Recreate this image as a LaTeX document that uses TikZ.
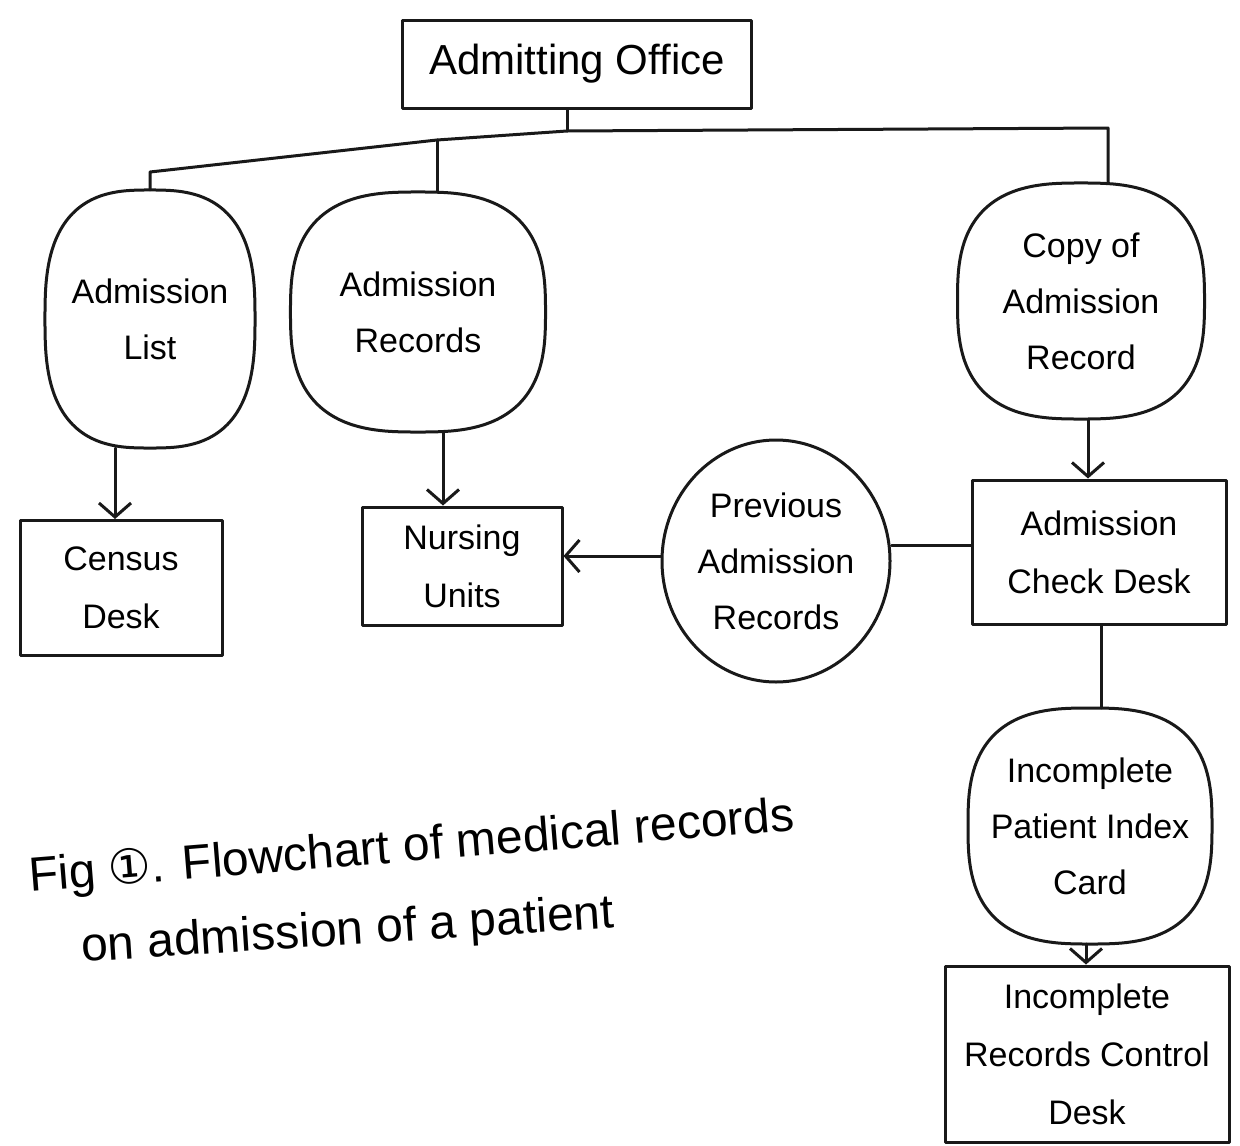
\documentclass[tikz,border=0pt]{standalone}
\usepackage{fontspec}
\setmainfont{Liberation Sans}
\newfontfamily\symfont{DejaVu Sans}
\usetikzlibrary{shapes.geometric,arrows.meta}

\tikzset{
  ink/.style={line width=3pt, draw=black!90, line join=round, line cap=round},
  box/.style={ink, rectangle, align=center, inner sep=0pt, font=\fontsize{34}{58}\selectfont},
  blob/.style={rectangle, align=center, inner sep=0pt, font=\fontsize{34}{56}\selectfont},
  oval/.style={ink, ellipse, align=center, inner sep=0pt, font=\fontsize{34}{56}\selectfont},
  flow/.style={ink, -{Straight Barb[length=14pt,width=32pt,line width=3pt]}},
  link/.style={ink},
  caption/.style={font=\fontsize{48}{64}\selectfont, anchor=base west, inner sep=0pt}
}

% rounded-square outline (superellipse) round a node: name, half width, half height
\newcommand\blobline[3]{%
  \draw[ink, shift={(#1.center)}] plot[domain=1:359, samples=180]
    ({#2*sign(cos(\x))*pow(abs(cos(\x)),0.72)},
     {#3*sign(sin(\x))*pow(abs(sin(\x)),0.72)}) -- cycle;}

\begin{document}
\begin{tikzpicture}[x=1pt,y=-1pt]
\useasboundingbox[fill=white] (0,0) rectangle (1240,1146);

% offices and desks
\node[box, minimum width=349, minimum height=88, font=\fontsize{42}{48}\selectfont]
  (office) at (577,64) {Admitting Office};
\node[box, minimum width=202, minimum height=135] (census) at (121,588) {Census\\Desk};
\node[box, minimum width=200, minimum height=118] (nursing) at (462,566) {Nursing\\Units};
\node[box, minimum width=254, minimum height=144] (check) at (1099,552) {Admission\\Check Desk};
\node[box, minimum width=284, minimum height=176] (control) at (1087,1054)
  {Incomplete\\Records Control\\Desk};

% record sets
\node[blob, minimum width=210, minimum height=258] (list) at (150,319) {Admission\\List};
\node[blob, minimum width=255, minimum height=240] (records) at (418,312) {Admission\\Records};
\node[blob, minimum width=247, minimum height=236] (copy) at (1081,301)
  {Copy of\\Admission\\Record};
\node[oval, minimum width=228, minimum height=242] (previous) at (776,561)
  {Previous\\Admission\\Records};
\node[blob, minimum width=244, minimum height=236] (index) at (1090,826)
  {Incomplete\\Patient Index\\Card};
\blobline{list}{105}{129}
\blobline{records}{127.5}{120}
\blobline{copy}{123.5}{118}
\blobline{index}{122}{118}

% distribution bus below the admitting office
\coordinate (busL) at (150,172);
\coordinate (busM) at (437,140);
\coordinate (busR) at (1108,128);
\coordinate (busO) at (567,131);
\draw[link] (office.south -| busO) -- (busO);
\draw[link] (busL |- list.north) -- (busL) -- (busM) -- (busO) -- (busR) -- (busR |- copy.north);
\draw[link] (busM) -- (busM |- records.north);

% flows
\coordinate (xA) at (115,0);
\coordinate (xB) at (443,0);
\coordinate (xC) at (1088,0);
\coordinate (xD) at (1101,0);
\coordinate (xE) at (1086,0);
\coordinate (yP) at (0,556);
\coordinate (yQ) at (0,545);
\draw[flow] (xA |- list.south) -- (xA |- census.north);
\draw[flow] (xB |- records.south) -- (xB |- nursing.north);
\draw[flow] (xC |- copy.south) -- (xC |- check.north);
\draw[flow] (previous.west |- yP) -- (nursing.east |- yP);
\draw[link] (previous.east |- yQ) -- (check.west |- yQ);
\draw[link] (xD |- check.south) -- (xD |- index.north);
\draw[flow] (xE |- index.south) -- (xE |- control.north);

% caption
\node[caption, rotate=4.6] (cap1) at (30,892) {Fig {\symfont①}. Flowchart of medical records};
\node[caption, rotate=3.7] (cap2) at (82,962) {on admission of a patient};
\end{tikzpicture}
\end{document}
